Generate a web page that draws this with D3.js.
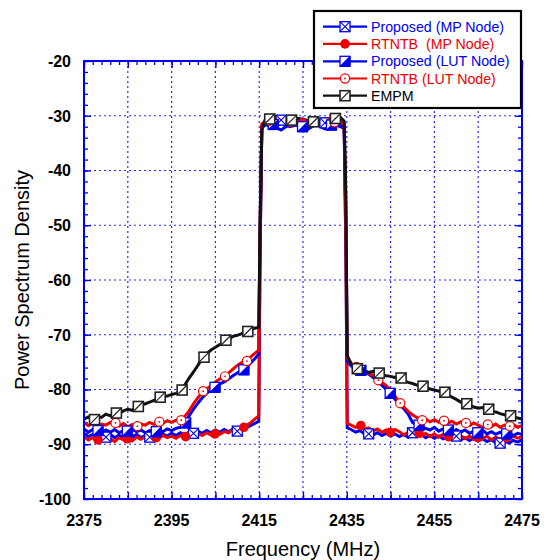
<!DOCTYPE html>
<html><head><meta charset="utf-8">
<script src="https://cdn.jsdelivr.net/npm/d3@7"></script>
<style>body{margin:0;background:#fff}svg{display:block}text{font-family:"Liberation Sans",Arial,sans-serif}</style>
</head><body><svg id="c" width="544" height="560"></svg>
<script>
// ---------- data ----------
const freq = [2375,2376,2377,2378,2379,2380,2381,2382,2383,2384,2385,2386,2387,2388,2389,2390,2391,2392,2393,2394,2395,2396,2397,2398,2399,2400,2401,2402,2403,2404,2405,2406,2407,2408,2409,2410,2411,2412,2413,2414,
 2414.9,2415.2,2415.6,2416.5,2418,2420,2422,2424,2426,2428,2430,2432,2433.5,2434.4,2434.8,2435.1,
 2436,2437,2438,2439,2440,2441,2442,2443,2444,2445,2446,2447,2448,2449,2450,2451,2452,2453,2454,2455,2456,2457,2458,2459,2460,2461,2462,2463,2464,2465,2466,2467,2468,2469,2470,2471,2472,2473,2474,2475];

const propMP = [-88.0,-88.6,-88.2,-88.8,-88.4,-88.7,-88.2,-88.8,-88.3,-88.9,-88.4,-88.7,-88.2,-88.8,-88.4,-88.7,-88.2,-88.6,-88.1,-88.5,-88.0,-88.4,-87.9,-88.3,-87.8,-88.1,-87.6,-88.0,-87.5,-87.9,-87.4,-87.8,-87.3,-87.7,-87.2,-87.6,-87.1,-87.0,-86.6,-86.2,
 -85.8,-55,-32.2,-31.6,-32.2,-31.4,-32.0,-31.6,-32.5,-31.5,-32.1,-31.6,-32.0,-32.3,-55,-87.0,
 -87.3,-87.8,-87.5,-88.1,-87.8,-88.3,-87.9,-88.4,-88.0,-88.5,-88.1,-88.6,-88.2,-88.7,-88.0,-88.6,-88.2,-88.8,-88.4,-88.9,-88.5,-89.0,-88.6,-89.1,-88.5,-89.2,-88.8,-89.3,-88.9,-89.4,-89.0,-89.5,-89.2,-89.7,-89.8,-89.4,-89.8,-89.3,-89.6,-89.2];

const rtntbMP = [-88.6,-89.2,-88.8,-89.4,-88.9,-89.3,-89.0,-89.5,-88.8,-89.2,-88.9,-89.4,-88.7,-89.1,-88.6,-89.0,-88.5,-88.9,-88.4,-88.8,-88.5,-88.9,-88.4,-88.7,-88.2,-88.6,-88.0,-88.4,-87.9,-88.3,-87.8,-88.2,-87.7,-87.9,-87.3,-87.5,-87.0,-86.6,-86.1,-85.4,
 -84.8,-55,-31.8,-31.2,-30.8,-31.4,-31.0,-31.5,-30.9,-31.3,-30.8,-31.2,-30.9,-31.6,-55,-86.2,
 -86.5,-86.9,-86.6,-87.3,-87.0,-87.6,-87.2,-87.8,-87.4,-87.9,-87.3,-87.7,-88.3,-87.8,-88.4,-87.9,-88.5,-88.0,-88.6,-88.1,-88.7,-88.2,-88.8,-88.3,-88.9,-88.4,-89.0,-88.5,-89.1,-88.6,-89.0,-88.5,-89.2,-88.7,-89.1,-88.6,-89.0,-88.5,-88.9,-88.6];

const propLUT = [-87.2,-87.8,-87.3,-87.6,-87.9,-87.4,-87.8,-87.3,-87.9,-87.5,-87.8,-87.3,-87.7,-87.4,-87.9,-87.5,-87.8,-87.4,-87.7,-87.2,-87.5,-87.1,-86.9,-86.3,-84.8,-83.6,-82.5,-81.5,-80.7,-80.0,-79.5,-79.0,-78.6,-78.1,-77.5,-77.0,-76.5,-76.0,-75.2,-74.4,
 -73.5,-50,-32.0,-31.4,-31.8,-32.6,-31.5,-31.9,-32.3,-31.6,-32.4,-31.7,-31.4,-32.0,-50,-74.8,
 -75.7,-76.1,-76.5,-76.8,-77.2,-77.8,-78.5,-79.2,-80.0,-80.8,-81.8,-82.6,-83.5,-84.5,-86.0,-86.5,-86.9,-87.1,-87.4,-86.9,-87.6,-87.2,-87.5,-87.9,-87.3,-87.8,-87.4,-88.0,-87.6,-87.9,-87.4,-88.1,-87.7,-88.2,-87.8,-88.3,-87.9,-88.4,-88.0,-88.2];

const rtntbLUT = [-86.0,-86.6,-86.2,-86.8,-86.3,-86.5,-86.0,-86.4,-86.7,-86.2,-86.8,-86.4,-86.9,-86.3,-86.5,-86.0,-86.4,-85.9,-86.2,-85.7,-86.0,-85.6,-85.5,-84.9,-83.9,-82.6,-81.5,-80.5,-79.9,-79.3,-78.6,-78.1,-77.6,-77.0,-76.3,-75.6,-75.1,-74.8,-74.1,-73.4,
 -72.8,-50,-31.5,-30.9,-31.2,-30.7,-31.3,-30.9,-31.2,-30.8,-31.3,-30.9,-31.2,-31.5,-50,-74.2,
 -75.3,-75.8,-76.3,-76.6,-77.0,-77.5,-78.1,-78.7,-79.3,-80.1,-81.2,-82.3,-83.2,-84.0,-84.6,-85.1,-85.6,-85.4,-85.9,-85.5,-86.0,-85.6,-86.2,-85.8,-86.3,-85.9,-86.2,-86.6,-86.1,-86.5,-86.9,-86.4,-86.8,-86.3,-86.9,-86.5,-86.8,-86.4,-86.9,-86.6];

const empm = [-85.4,-85.0,-85.5,-84.9,-85.1,-84.5,-84.8,-84.2,-84.4,-83.9,-83.6,-83.8,-83.1,-82.9,-82.6,-82.3,-82.0,-81.5,-81.3,-81.2,-80.9,-80.7,-80.4,-79.2,-77.9,-76.8,-75.6,-74.3,-73.5,-72.8,-72.3,-71.8,-71.2,-70.8,-70.3,-70.1,-69.8,-69.4,-69.1,-68.8,
 -68.6,-50,-32.5,-30.4,-30.3,-30.6,-30.7,-30.5,-30.8,-30.9,-30.6,-30.4,-30.3,-31.0,-45,-73.8,
 -75.3,-75.9,-76.4,-76.6,-76.9,-76.7,-77.0,-77.3,-77.5,-77.6,-77.8,-78.0,-78.4,-78.7,-78.9,-79.2,-79.4,-79.6,-79.9,-80.1,-80.3,-80.6,-81.0,-81.4,-81.8,-82.3,-82.6,-82.9,-83.2,-83.4,-83.3,-83.7,-84.0,-84.1,-84.4,-84.6,-84.8,-85.0,-85.2,-85.4];

// marker positions (frequency, value)
const mkPropMPf = [2380,2390,2400,2410,2420,2430,2440,2450,2460,2470];
const mkPropMPv = [-88.7,-88.7,-88.0,-87.6,-30.8,-31.3,-88.1,-87.9,-88.5,-89.8];
const mkRtntbMPf = [2378.2,2384.9,2391.5,2398.2,2404.9,2411.5,2418.2,2424.9,2431.5,2438.2,2444.9,2451.5,2458.2,2464.9,2471.5];
const mkRtntbMPv = [-89.2,-89.0,-88.8,-88.6,-88.1,-86.9,-31.0,-31.3,-31.0,-86.6,-87.8,-88.0,-88.6,-88.8,-88.8];
const mkPropLUTf = [2378.2,2384.9,2391.5,2398.2,2404.9,2411.5,2418.2,2424.9,2431.5,2438.2,2444.9,2451.5,2458.2,2464.9,2471.5];
const mkPropLUTv = [-87.5,-87.6,-87.7,-86.1,-79.6,-76.4,-31.6,-32.0,-31.7,-76.5,-80.7,-86.5,-87.4,-87.9,-88.1];
const mkRtntbLUTf = [2382.2,2387.2,2392.2,2397.2,2402.2,2407.2,2412.2,2417.2,2422.2,2427.2,2432.2,2437.2,2442.2,2447.2,2452.2,2457.2,2462.2,2467.2,2472.2];
const mkRtntbLUTv = [-86.1,-86.7,-85.9,-85.6,-80.3,-77.6,-74.8,-30.9,-31.1,-31.0,-31.2,-75.9,-78.3,-82.5,-85.6,-85.7,-86.1,-86.4,-86.7];
const mkEmpmf = [2377.4,2382.4,2387.4,2392.4,2397.4,2402.4,2407.4,2412.4,2417.4,2422.4,2427.4,2432.4,2437.4,2442.4,2447.4,2452.4,2457.4,2462.4,2467.4,2472.4];
const mkEmpmv = [-85.5,-84.3,-83.1,-81.4,-80.1,-74.1,-71.0,-69.4,-30.6,-30.8,-31.1,-30.5,-76.2,-77.0,-77.9,-79.4,-80.5,-82.6,-83.6,-84.8];

const xTickLabels = [2375,2395,2415,2435,2455,2475];
const yTickLabels = [-20,-30,-40,-50,-60,-70,-80,-90,-100];
const xGrid = [2385,2395,2405,2415,2425,2435,2445,2455,2465];
const yGrid = [-30,-40,-50,-60,-70,-80,-90];
const legendNames = ["Proposed (MP Node)","RTNTB  (MP Node)","Proposed (LUT Node)","RTNTB (LUT Node)","EMPM"];

// ---------- drawing ----------
const BLUE = "#0000f0", RED = "#ee0000", BLK = "#111";
const svg = d3.select("#c");
const L = 84, R = 522, T = 61, B = 499;
const x = d3.scaleLinear().domain([2375,2475]).range([L,R]);
const y = d3.scaleLinear().domain([-100,-20]).range([B,T]);

// grid
const grid = svg.append("g").attr("stroke","#2a2af0").attr("stroke-width",1.2).attr("stroke-dasharray","2,3");
grid.selectAll("line.gx").data(xGrid).join("line").attr("x1",d=>x(d)).attr("x2",d=>x(d)).attr("y1",T).attr("y2",B);
grid.selectAll("line.gy").data(yGrid).join("line").attr("y1",d=>y(d)).attr("y2",d=>y(d)).attr("x1",L).attr("x2",R);

// ticks (inward) on all sides
function tickAxis(axis, tr, vals, size){
  const g = svg.append("g").attr("transform",tr)
    .call(axis.tickValues(vals).tickSizeInner(-size).tickSizeOuter(0).tickFormat(""));
  g.select(".domain").remove();
  g.selectAll("line").attr("stroke",BLUE).attr("stroke-width",1.3);
}
const xMinor = d3.range(2375,2476,2), yMinor = d3.range(-100,-19,2);
const xMajor = d3.range(2375,2476,10), yMajor = d3.range(-100,-19,10);
tickAxis(d3.axisBottom(x), `translate(0,${B})`, xMinor, 4);
tickAxis(d3.axisTop(x), `translate(0,${T})`, xMinor, 4);
tickAxis(d3.axisLeft(y), `translate(${L},0)`, yMinor, 4);
tickAxis(d3.axisRight(y), `translate(${R},0)`, yMinor, 4);
tickAxis(d3.axisBottom(x), `translate(0,${B})`, xMajor, 7);
tickAxis(d3.axisTop(x), `translate(0,${T})`, xMajor, 7);
tickAxis(d3.axisLeft(y), `translate(${L},0)`, yMajor, 7);
tickAxis(d3.axisRight(y), `translate(${R},0)`, yMajor, 7);

// series lines
const series = [
  {v:propMP, c:BLUE, mf:mkPropMPf, mv:mkPropMPv, m:"xsq"},
  {v:rtntbMP, c:RED, mf:mkRtntbMPf, mv:mkRtntbMPv, m:"dot"},
  {v:propLUT, c:BLUE, mf:mkPropLUTf, mv:mkPropLUTv, m:"half"},
  {v:rtntbLUT, c:RED, mf:mkRtntbLUTf, mv:mkRtntbLUTv, m:"circ"},
  {v:empm, c:BLK, mf:mkEmpmf, mv:mkEmpmv, m:"slash"}
];
const line = d3.line().x(d=>x(d[0])).y(d=>y(d[1]));
const plot = svg.append("g");

function marker(g, type, cx, cy, col){
  const s = 10, h = s/2;
  if(type==="xsq"){
    g.append("rect").attr("x",cx-h).attr("y",cy-h).attr("width",s).attr("height",s).attr("fill","#fff").attr("stroke",col).attr("stroke-width",1.3);
    g.append("path").attr("d",`M${cx-h},${cy-h}L${cx+h},${cy+h}M${cx+h},${cy-h}L${cx-h},${cy+h}`).attr("stroke",col).attr("stroke-width",1.1);
  } else if(type==="half"){
    g.append("rect").attr("x",cx-h).attr("y",cy-h).attr("width",s).attr("height",s).attr("fill","#fff").attr("stroke",col).attr("stroke-width",1.3);
    g.append("path").attr("d",`M${cx-h},${cy+h}L${cx+h},${cy-h}L${cx+h},${cy+h}Z`).attr("fill",col).attr("stroke",col).attr("stroke-width",1);
  } else if(type==="dot"){
    g.append("circle").attr("cx",cx).attr("cy",cy).attr("r",4.8).attr("fill",col);
  } else if(type==="circ"){
    g.append("circle").attr("cx",cx).attr("cy",cy).attr("r",4.6).attr("fill","#fff").attr("stroke",col).attr("stroke-width",1.2);
    g.append("circle").attr("cx",cx).attr("cy",cy).attr("r",0.9).attr("fill",col);
  } else if(type==="slash"){
    g.append("rect").attr("x",cx-h).attr("y",cy-h).attr("width",s).attr("height",s).attr("fill","#fff").attr("stroke","#222").attr("stroke-width",1.6);
    g.append("path").attr("d",`M${cx-h},${cy+h}L${cx+h},${cy-h}`).attr("stroke","#222").attr("stroke-width",1.2);
  }
}

series.forEach(s=>{
  const pts = freq.map((f,i)=>[f,s.v[i]]);
  plot.append("path").attr("d",line(pts)).attr("fill","none").attr("stroke",s.c).attr("stroke-width",3).attr("stroke-linejoin","miter");
});
series.forEach(s=>{
  const g = plot.append("g");
  s.mf.forEach((f,i)=>marker(g, s.m, x(f), y(s.mv[i]), s.c));
});

// frame
svg.append("rect").attr("x",L).attr("y",T).attr("width",R-L).attr("height",B-T).attr("fill","none").attr("stroke",BLUE).attr("stroke-width",2);

// tick labels
svg.append("g").selectAll("text").data(xTickLabels).join("text")
  .attr("x",d=>x(d)).attr("y",526).attr("text-anchor","middle")
  .attr("font-size",16).attr("font-weight","bold").text(d=>d);
svg.append("g").selectAll("text").data(yTickLabels).join("text")
  .attr("x",71).attr("y",d=>y(d)).attr("dy","0.36em").attr("text-anchor","end")
  .attr("font-size",16).attr("font-weight","bold").text(d=>d);

// axis titles
svg.append("text").attr("x",(L+R)/2).attr("y",556).attr("text-anchor","middle").attr("font-size",20).text("Frequency (MHz)");
svg.append("text").attr("transform",`translate(29,${(T+B)/2}) rotate(-90)`).attr("text-anchor","middle").attr("font-size",20).text("Power Spectrum Density");

// legend
const lg = svg.append("g");
lg.append("rect").attr("x",314).attr("y",11).attr("width",207).attr("height",97).attr("fill","#fff").attr("stroke","#000").attr("stroke-width",2.2);
const rowsY = [26.7,43.9,61.3,78.5,95.7];
const txtCol = [BLUE,RED,BLUE,RED,"#000"];
series.forEach((s,i)=>{
  const yy = rowsY[i];
  lg.append("line").attr("x1",323).attr("x2",367).attr("y1",yy).attr("y2",yy).attr("stroke",s.c).attr("stroke-width",2.2);
  marker(lg, s.m, 345, yy, s.c);
  lg.append("text").attr("x",371).attr("y",yy).attr("dy","0.36em").attr("font-size",14.2)
    .attr("fill",txtCol[i]).style("white-space","pre").text(legendNames[i]);
});
</script></body></html>
